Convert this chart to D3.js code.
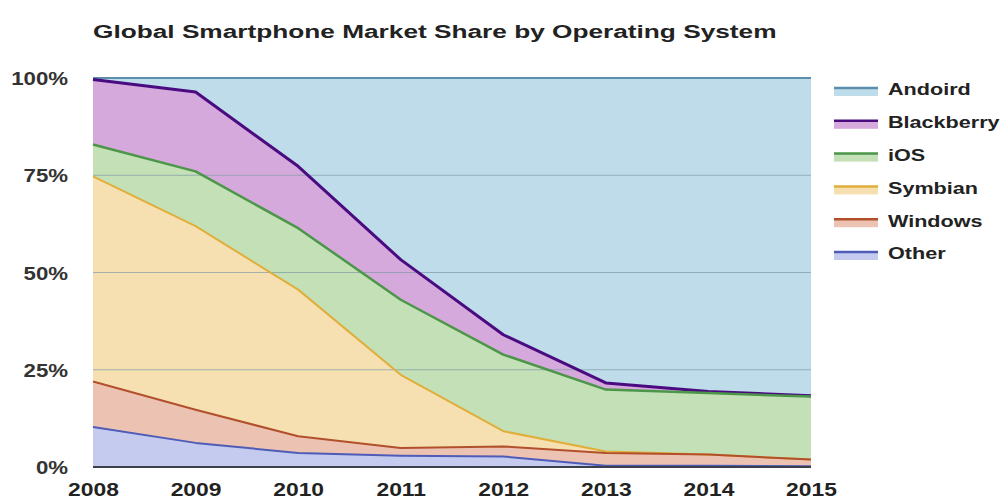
<!DOCTYPE html>
<html><head><meta charset="utf-8">
<script src="https://cdn.jsdelivr.net/npm/d3@7"></script>
<style>body{margin:0;background:#fff}svg{display:block}</style>
</head><body>
<svg id="chart" width="1008" height="499"></svg>
<script>
const years = [2008, 2009, 2010, 2011, 2012, 2013, 2014, 2015];
const other = [10.3, 6.2, 3.6, 2.9, 2.7, 0.3, 0.3, 0.2];
const windows = [11.7, 8.5, 4.3, 2.0, 2.6, 3.3, 2.9, 1.7];
const symbian = [52.7, 47.2, 37.7, 18.8, 3.9, 0.4, 0.0, 0.0];
const ios = [8.2, 14.1, 15.8, 19.3, 19.7, 15.9, 15.8, 16.2];
const blackberry = [16.7, 20.4, 15.9, 10.3, 5.1, 1.7, 0.4, 0.2];
const android = [0.4, 3.6, 22.7, 46.7, 66.0, 78.4, 80.6, 81.7];
const yTicks = [0, 25, 50, 75, 100];
const tickLabels = ["0%", "25%", "50%", "75%", "100%"];
const seriesNames = ["Other", "Windows", "Symbian", "iOS", "Blackberry", "Andoird"];
const fills = ["#c4cbee", "#ecc3b3", "#f6e0b2", "#c3e0b6", "#d6a9dc", "#bfdcea"];
const strokes = ["#4e5cb8", "#b2502c", "#e0ae3a", "#4b9648", "#4a0b80", "#5b8fad"];
const strokeW = [2, 2, 2, 2.5, 3, 2];

const FONT = "Liberation Sans, Arial, sans-serif";
const STRETCH = 1.27;

const svg = d3.select("#chart");
const x = d3.scaleLinear().domain([2008, 2015]).range([93, 811]);
const y = d3.scaleLinear().domain([0, 100]).range([467, 78]);

const table = years.map((yr, i) => ({year: yr, s0: other[i], s1: windows[i], s2: symbian[i], s3: ios[i], s4: blackberry[i], s5: android[i]}));
const keys = ["s0","s1","s2","s3","s4","s5"];
const stacked = d3.stack().keys(keys)(table);

const area = d3.area().x(d => x(d.data.year)).y0(d => y(d[0])).y1(d => y(d[1]));
const line = d3.line().x(d => x(d.data.year)).y(d => y(d[1]));

svg.append("g").selectAll("path").data(stacked).join("path")
  .attr("d", area).attr("fill", (d, i) => fills[i]);

// gridlines
svg.append("g").selectAll("line").data([25, 50, 75]).join("line")
  .attr("x1", x(2008)).attr("x2", x(2015))
  .attr("y1", d => y(d)).attr("y2", d => y(d))
  .attr("stroke", "#7f9aa8").attr("stroke-opacity", 0.7).attr("stroke-width", 1);

// lines
svg.append("g").selectAll("path").data(stacked.slice().reverse()).join("path")
  .attr("d", line).attr("fill", "none")
  .attr("stroke", d => strokes[d.index]).attr("stroke-width", d => strokeW[d.index])
  .attr("stroke-linejoin", "round");

// bottom axis line
svg.append("line").attr("x1", x(2008)).attr("x2", x(2015))
  .attr("y1", y(0)).attr("y2", y(0)).attr("stroke", "#3a3f4a").attr("stroke-width", 2);

// y axis
const yAxis = d3.axisLeft(y).tickValues(yTicks).tickSize(0).tickPadding(0)
  .tickFormat((d, i) => tickLabels[i]);
const ya = svg.append("g").attr("transform", "translate(68,0)").call(yAxis);
ya.select(".domain").remove();
ya.selectAll("text").attr("x", 0).attr("font-family", FONT)
  .attr("font-weight", "bold").attr("font-size", 17.5).attr("fill", "#333").attr("dy", "0.38em")
  .attr("transform", `scale(${STRETCH},1)`);

// x axis
const xAxis = d3.axisBottom(x).tickValues(years).tickSize(0).tickPadding(0).tickFormat(d3.format("d"));
const xa = svg.append("g").attr("transform", "translate(0,483)").call(xAxis);
xa.select(".domain").remove();
xa.selectAll("text").attr("y", 0).attr("font-family", FONT)
  .attr("font-weight", "bold").attr("font-size", 18).attr("fill", "#222").attr("dy", "0.71em")
  .attr("transform", `scale(${STRETCH},1)`);

// title
const title = svg.append("text").attr("x", 0).attr("y", 0)
  .attr("font-family", FONT).attr("font-weight", "bold")
  .attr("font-size", 18.5).attr("fill", "#222")
  .text("Global Smartphone Market Share by Operating System");
const tw = title.node().getComputedTextLength();
title.attr("transform", `translate(93,38) scale(${684 / tw},1)`);

// legend
const legendOrder = [5, 4, 3, 2, 1, 0];
const lg = svg.append("g").selectAll("g").data(legendOrder).join("g")
  .attr("transform", (d, i) => `translate(834,${88 + i * 32.8})`);
lg.append("rect").attr("x", 0).attr("y", 0).attr("width", 44).attr("height", 8).attr("fill", d => fills[d]);
lg.append("line").attr("x1", 0).attr("x2", 44).attr("y1", 0).attr("y2", 0)
  .attr("stroke", d => strokes[d]).attr("stroke-width", 2.5);
lg.append("text").attr("x", 0).attr("y", 1).attr("dy", "0.38em")
  .attr("transform", `translate(54,0) scale(${STRETCH},1)`)
  .attr("font-family", FONT).attr("font-weight", "bold")
  .attr("font-size", 17).attr("fill", "#222").text(d => seriesNames[d]);
</script>
</body></html>
